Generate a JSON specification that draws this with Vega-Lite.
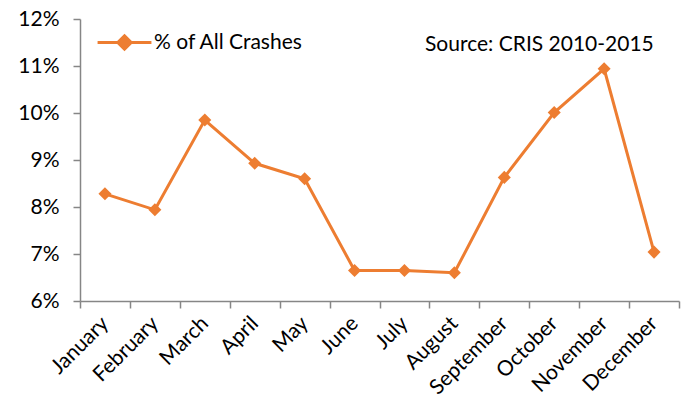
{
  "$schema": "https://vega.github.io/schema/vega-lite/v6.json",
  "width": 599,
  "height": 282,
  "autosize": "none",
  "padding": {"left": 80, "top": 19, "right": 9, "bottom": 108},
  "background": "white",
  "config": {"view": {"stroke": null}, "font": "Lato"},
  "data": {
    "values": [
      {"month": "January", "pct": 8.28, "series": "% of All Crashes", "source": "Source: CRIS 2010-2015"},
      {"month": "February", "pct": 7.94, "series": "% of All Crashes", "source": "Source: CRIS 2010-2015"},
      {"month": "March", "pct": 9.85, "series": "% of All Crashes", "source": "Source: CRIS 2010-2015"},
      {"month": "April", "pct": 8.93, "series": "% of All Crashes", "source": "Source: CRIS 2010-2015"},
      {"month": "May", "pct": 8.6, "series": "% of All Crashes", "source": "Source: CRIS 2010-2015"},
      {"month": "June", "pct": 6.65, "series": "% of All Crashes", "source": "Source: CRIS 2010-2015"},
      {"month": "July", "pct": 6.65, "series": "% of All Crashes", "source": "Source: CRIS 2010-2015"},
      {"month": "August", "pct": 6.6, "series": "% of All Crashes", "source": "Source: CRIS 2010-2015"},
      {"month": "September", "pct": 8.63, "series": "% of All Crashes", "source": "Source: CRIS 2010-2015"},
      {"month": "October", "pct": 10.01, "series": "% of All Crashes", "source": "Source: CRIS 2010-2015"},
      {"month": "November", "pct": 10.94, "series": "% of All Crashes", "source": "Source: CRIS 2010-2015"},
      {"month": "December", "pct": 7.04, "series": "% of All Crashes", "source": "Source: CRIS 2010-2015"}
    ]
  },
  "encoding": {
    "x": {
      "field": "month",
      "type": "nominal",
      "sort": null,
      "scale": {"paddingInner": 0, "paddingOuter": 0},
      "axis": {
        "title": null,
        "labelAngle": -45,
        "labelAlign": "right",
        "labelBaseline": "middle",
        "labelFontSize": 21,
        "labelColor": "black",
        "labelPadding": 12,
        "tickBand": "extent",
        "tickSize": 7,
        "tickColor": "#868686",
        "domainColor": "#868686",
        "domainWidth": 1.5,
        "tickWidth": 1.5
      }
    },
    "y": {
      "field": "pct",
      "type": "quantitative",
      "scale": {"domain": [6, 12], "nice": false, "zero": false},
      "axis": {
        "title": null,
        "values": [6, 7, 8, 9, 10, 11, 12],
        "labelExpr": "datum.value + '%'",
        "labelFontSize": 21,
        "labelColor": "black",
        "labelPadding": 14,
        "tickSize": 7,
        "tickColor": "#868686",
        "domainColor": "#868686",
        "domainWidth": 1.5,
        "tickWidth": 1.5,
        "grid": false
      }
    },
    "color": {
      "field": "series",
      "type": "nominal",
      "scale": {"range": ["#ED7D31"]},
      "legend": {
        "title": null,
        "orient": "none",
        "legendX": 16,
        "legendY": -5,
        "symbolType": "M-1,0H1M0,-0.25L0.25,0L0,0.25L-0.25,0Z",
        "symbolSize": 2900,
        "symbolStrokeWidth": 3,
        "symbolFillColor": "#ED7D31",
        "symbolStrokeColor": "#ED7D31",
        "labelFontSize": 21,
        "labelColor": "black",
        "labelOffset": 1,
        "labelLimit": 400,
        "labelFont": "Lato"
      }
    }
  },
  "layer": [
    {"mark": {"type": "line", "strokeWidth": 3}},
    {
      "mark": {"type": "point", "filled": true, "size": 170, "opacity": 1},
      "encoding": {
        "shape": {
          "field": "source",
          "type": "nominal",
          "scale": {"range": ["diamond"]},
          "legend": {
            "title": null,
            "orient": "none",
            "legendX": 324,
            "legendY": 15,
            "symbolSize": 0,
            "symbolOpacity": 0,
            "symbolStrokeWidth": 0,
            "labelOffset": 0,
            "labelLimit": 400,
            "labelFontSize": 21,
            "labelColor": "black",
            "labelFont": "Lato"
          }
        }
      }
    }
  ]
}
